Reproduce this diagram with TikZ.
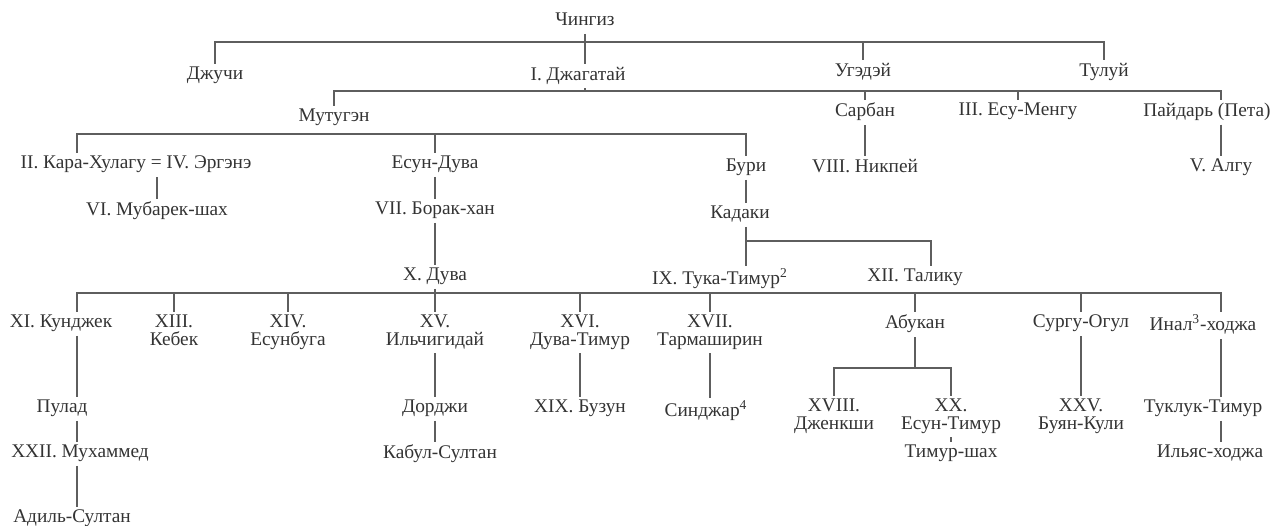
\documentclass[tikz,border=0pt]{standalone}
\usepackage{fontspec}
\setmainfont{Liberation Serif}
\usepackage{xcolor}
\definecolor{ink}{HTML}{333333}
\definecolor{rule}{HTML}{5E5E5E}

\begin{document}
\begin{tikzpicture}[x=0.02cm,y=-0.02cm,
    khan/.style={anchor=north,inner sep=1.5pt,align=center,text=ink,
      font=\fontsize{11}{10}\selectfont,execute at begin node=\strut},
    link/.style={thick,draw=rule}]
  \useasboundingbox (0,0) rectangle (1274,526);

  \coordinate (bar1) at (0,42);
  \coordinate (bar2) at (0,91);
  \coordinate (bar3) at (0,134);
  \coordinate (bar4) at (0,293);
  \coordinate (abar) at (0,368);
  \coordinate (kbar) at (931,241);
  \coordinate (colL) at (77,0);
  \coordinate (colR) at (1221,0);

  \node[khan] (chingiz) at (585,10) {Чингиз};
  \node[khan] (djuchi) at (215,64) {Джучи};
  \node[khan] (djagatai) at (578,64) {I. Джагатай};
  \node[khan] (ugedei) at (863,60) {Угэдэй};
  \node[khan] (tului) at (1104,60) {Тулуй};

  \node[khan] (mutugen) at (334,106) {Мутугэн};
  \node[khan] (sarban) at (865,100) {Сарбан};
  \node[khan] (esumengu) at (1018,100) {III. Есу-Менгу};
  \node[khan] (paidar) at (1207,100) {Пайдарь (Пета)};

  \node[khan] (karahulagu) at (136,153) {II. Кара-Хулагу = IV. Эргэнэ};
  \node[khan] (esunduva) at (435,153) {Есун-Дува};
  \node[khan] (buri) at (746,156) {Бури};
  \node[khan] (nikpei) at (865,156) {VIII. Никпей};
  \node[khan] (algu) at (1221,156) {V. Алгу};

  \node[khan] (mubarek) at (157,199) {VI. Мубарек-шах};
  \node[khan] (borak) at (435,199) {VII. Борак-хан};
  \node[khan] (kadaki) at (740,203) {Кадаки};

  \node[khan] (duva) at (435,265) {X. Дува};
  \node[khan] (tukatimur) at (720,266) {IX. Тука-Тимур\textsuperscript{2}};
  \node[khan] (taliku) at (915,266) {XII. Талику};

  \node[khan] (kunjek) at (61,312) {XI. Кунджек};
  \node[khan] (kebek) at (174,312) {XIII.\\Кебек};
  \node[khan] (esunbuga) at (288,312) {XIV.\\Есунбуга};
  \node[khan] (ilchigidai) at (435,312) {XV.\\Ильчигидай};
  \node[khan] (duvatimur) at (580,312) {XVI.\\Дува-Тимур};
  \node[khan] (tarmashirin) at (710,312) {XVII.\\Тармаширин};
  \node[khan] (abukan) at (915,312) {Абукан};
  \node[khan] (surgu) at (1081,312) {Сургу-Огул};
  \node[khan] (inal) at (1203,312) {Инал\textsuperscript{3}-ходжа};

  \node[khan] (pulad) at (62,397) {Пулад};
  \node[khan] (dorji) at (435,397) {Дорджи};
  \node[khan] (buzun) at (580,397) {XIX. Бузун};
  \node[khan] (sinjar) at (706,398) {Синджар\textsuperscript{4}};
  \node[khan] (jenkshi) at (834,396) {XVIII.\\Дженкши};
  \node[khan] (esuntimur) at (951,396) {XX.\\Есун-Тимур};
  \node[khan] (buyankuli) at (1081,396) {XXV.\\Буян-Кули};
  \node[khan] (tukluk) at (1203,397) {Туклук-Тимур};

  \node[khan] (muhammed) at (80,442) {XXII. Мухаммед};
  \node[khan] (kabul) at (440,442) {Кабул-Султан};
  \node[khan] (timurshah) at (951,442) {Тимур-шах};
  \node[khan] (ilyas) at (1210,442) {Ильяс-ходжа};
  \node[khan] (adil) at (72,507) {Адиль-Султан};

  % sons of Chingiz
  \draw[link] (chingiz) -- (chingiz |- djagatai.north);
  \draw[link] (djuchi.north) -- (djuchi.north |- bar1) -- (tului.north |- bar1) -- (tului.north);
  \draw[link] (ugedei.north) -- (ugedei.north |- bar1);

  \draw[link] (chingiz |- djagatai.south) -- (chingiz |- bar2);
  \draw[link] (mutugen.north) -- (mutugen.north |- bar2) -- (colR |- bar2) -- (colR |- paidar.north);
  \draw[link] (sarban.north) -- (sarban.north |- bar2);
  \draw[link] (esumengu.north) -- (esumengu.north |- bar2);
  \draw[link] (sarban) -- (nikpei);
  \draw[link] (colR |- paidar.south) -- (algu.north);

  \draw[link] (colL |- karahulagu.north) -- (colL |- bar3) -- (buri.north |- bar3) -- (buri.north);
  \draw[link] (esunduva.north) -- (esunduva.north |- bar3);
  \draw[link] (mubarek.north) -- (mubarek.north |- karahulagu.south);
  \draw[link] (esunduva) -- (borak);
  \draw[link] (borak) -- (duva);
  \draw[link] (buri.south) -- (buri.south |- kadaki.north);
  \draw[link] (buri |- kadaki.south) -- (buri |- tukatimur.north);
  \draw[link] (buri |- kbar) -- (kbar) -- (kbar |- taliku.north);

  % the long row
  \draw[link] (colL |- kunjek.north) -- (colL |- bar4) -- (colR |- bar4) -- (colR |- inal.north);
  \draw[link] (duva) -- (ilchigidai);
  \foreach \n in {kebek,esunbuga,duvatimur,tarmashirin,abukan,surgu}
    \draw[link] (\n.north) -- (\n.north |- bar4);

  \draw[link] (colL |- kunjek.south) -- (colL |- pulad.north);
  \draw[link] (colL |- pulad.south) -- (colL |- muhammed.north);
  \draw[link] (colL |- muhammed.south) -- (colL |- adil.north);
  \draw[link] (ilchigidai) -- (dorji);
  \draw[link] (dorji.south) -- (dorji.south |- kabul.north);
  \draw[link] (duvatimur) -- (buzun);
  \draw[link] (tarmashirin.south) -- (tarmashirin.south |- sinjar.north);
  \draw[link] (abukan.south) -- (abukan.south |- abar);
  \draw[link] (jenkshi.north) |- (esuntimur.north |- abar) -- (esuntimur.north);
  \draw[link] (esuntimur) -- (timurshah);
  \draw[link] (surgu) -- (buyankuli);
  \draw[link] (colR |- inal.south) -- (colR |- tukluk.north);
  \draw[link] (colR |- tukluk.south) -- (colR |- ilyas.north);
\end{tikzpicture}
\end{document}
